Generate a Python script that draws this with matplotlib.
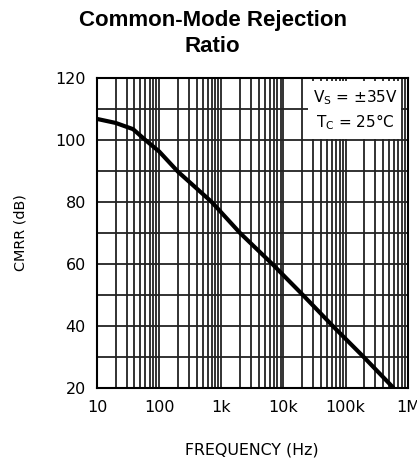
import numpy as np
import matplotlib
matplotlib.use("Agg")
import matplotlib.pyplot as plt
from matplotlib.patches import Rectangle

# curve (Hz, dB)
freq = [10, 20, 38, 60, 100, 200, 700, 2000, 6600, 20500, 62000, 195000, 590000]
cmrr = [106.8, 105.5, 103.5, 100.0, 96.3, 89.8, 80.0, 70.0, 60.0, 50.0, 40.0, 30.0, 20.0]

x_ticks = [10, 100, 1e3, 1e4, 1e5, 1e6]
x_labels = ["10", "100", "1k", "10k", "100k", "1M"]
y_ticks = [20, 40, 60, 80, 100, 120]

plt.rcParams['font.family'] = ['DejaVu Sans']

fig = plt.figure(figsize=(4.17, 4.61), dpi=100)
ax = fig.add_axes([0.2326, 0.1584, 0.978 - 0.2326, 0.8308 - 0.1584])

ax.set_xscale('log')
ax.set_xlim(10, 1e6)
ax.set_ylim(20, 120)

# grid: every decade 1..9, every 10 dB
minor_x = [m * 10**d for d in range(1, 6) for m in range(1, 10)]
for xv in minor_x:
    ax.axvline(xv, color='#222222', lw=1.3, zorder=1)
for yv in range(30, 120, 10):
    ax.axhline(yv, color='#222222', lw=1.3, zorder=1)

ax.plot(freq, cmrr, color='black', lw=3, zorder=4, solid_capstyle='butt')

# white patch behind the conditions text
ax.add_patch(Rectangle((0.679, 0.803), 0.298, 0.187, transform=ax.transAxes,
                       facecolor='white', edgecolor='none', zorder=2))
ax.text(0.83, 0.935, r'V$_\mathregular{S}$ = ±35V', transform=ax.transAxes,
        ha='center', va='center', fontsize=11, zorder=5)
ax.text(0.83, 0.858, r'T$_\mathregular{C}$ = 25°C', transform=ax.transAxes,
        ha='center', va='center', fontsize=11, zorder=5)

ax.set_xticks(x_ticks)
ax.set_xticklabels(x_labels)
ax.set_xticks([], minor=True)
ax.set_yticks(y_ticks)
ax.tick_params(length=0, labelsize=11.5, pad=9)
ax.tick_params(axis='y', pad=8)
for s in ax.spines.values():
    s.set_linewidth(1.5)
    s.set_zorder(6)

fig.text(0.51, 0.955, 'Common-Mode Rejection', ha='center', va='center',
         fontsize=16, fontweight='bold', family='Liberation Sans')
fig.text(0.51, 0.90, 'Ratio', ha='center', va='center',
         fontsize=16, fontweight='bold', family='Liberation Sans')
fig.text(0.048, 0.495, 'CMRR (dB)', rotation=90, ha='center', va='center', fontsize=10.4)
fig.text(0.603, 0.024, 'FREQUENCY (Hz)', ha='center', va='center', fontsize=11.4)

fig.savefig('out.png', dpi=100)
